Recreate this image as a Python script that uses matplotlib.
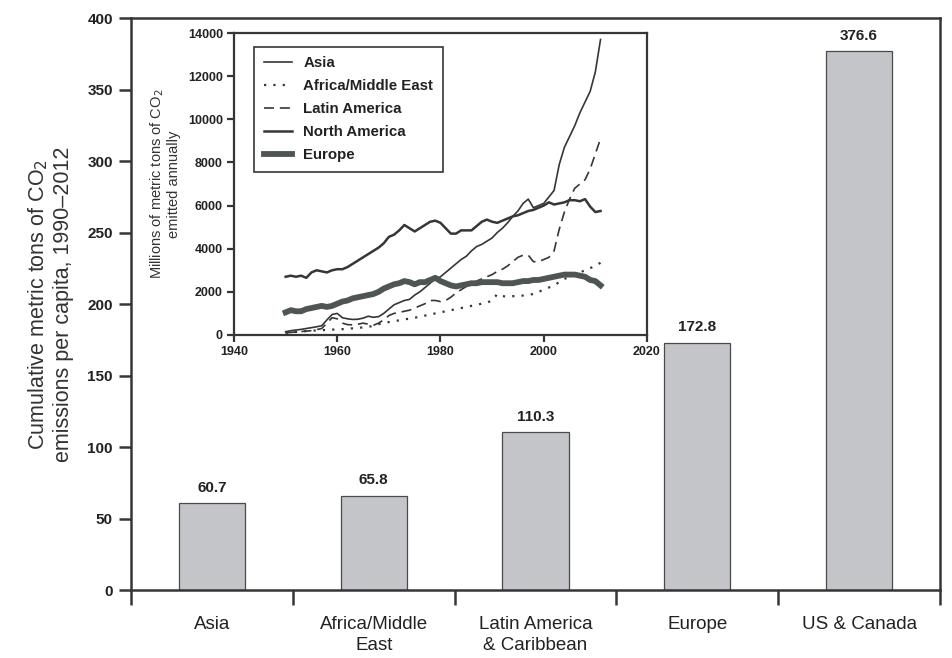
import numpy as np
import matplotlib
matplotlib.use('Agg')
import matplotlib.pyplot as plt

plt.rcParams['font.family'] = ['Liberation Sans', 'DejaVu Sans']

# main bar chart
regions = ['Asia', 'Africa/Middle\nEast', 'Latin America\n& Caribbean', 'Europe', 'US & Canada']
per_capita = [60.7, 65.8, 110.3, 172.8, 376.6]

# inset: annual emissions (millions of metric tons CO2), 1950-2011
years = list(range(1950, 2012))
asia = [150, 200, 230, 260, 300, 340, 380, 430, 700, 950,
        1000, 800, 750, 720, 730, 780, 870, 820, 850, 1000,
        1200, 1400, 1500, 1600, 1650, 1850, 2000, 2200, 2400, 2600,
        2700, 2900, 3100, 3300, 3500, 3650, 3900, 4100, 4200, 4350,
        4500, 4750, 4950, 5200, 5500, 5750, 6100, 6300, 5900, 6000,
        6100, 6400, 6700, 7900, 8700, 9200, 9700, 10300, 10800, 11300,
        12200, 13700]
africa_me = [100, 120, 140, 160, 180, 200, 210, 220, 240, 250,
             250, 270, 290, 310, 330, 350, 380, 420, 500, 550,
             600, 640, 680, 720, 760, 800, 850, 900, 950, 1000,
             1050, 1100, 1150, 1200, 1250, 1300, 1350, 1400, 1450, 1500,
             1600, 1900, 1800, 1780, 1800, 1800, 1830, 1860, 1900, 2000,
             2100, 2200, 2300, 2450, 2600, 2700, 2800, 2900, 3000, 3100,
             3200, 3350]
latin_am = [100, 120, 140, 160, 180, 200, 250, 300, 550, 800,
            750, 550, 480, 470, 500, 550, 500, 450, 550, 700,
            900, 1000, 1050, 1100, 1150, 1250, 1350, 1450, 1600, 1600,
            1550, 1600, 1750, 1950, 2100, 2250, 2350, 2500, 2600, 2700,
            2800, 2950, 3050, 3200, 3400, 3600, 3700, 3700, 3400, 3400,
            3500, 3600, 3900, 4900, 5700, 6300, 6800, 7000, 7200, 7700,
            8400, 9100]
north_am = [2700, 2750, 2700, 2750, 2650, 2900, 3000, 2950, 2900, 3000,
            3050, 3050, 3150, 3300, 3450, 3600, 3750, 3900, 4050, 4250,
            4550, 4650, 4850, 5100, 4950, 4800, 4950, 5100, 5250, 5300,
            5200, 4950, 4700, 4700, 4850, 4850, 4850, 5050, 5250, 5350,
            5250, 5200, 5300, 5400, 5500, 5550, 5650, 5750, 5800, 5900,
            6000, 6150, 6050, 6100, 6150, 6250, 6250, 6200, 6300, 5950,
            5700, 5750]
europe = [1050, 1150, 1100, 1100, 1200, 1250, 1300, 1350, 1300, 1350,
          1450, 1550, 1600, 1700, 1750, 1800, 1850, 1900, 2000, 2150,
          2250, 2350, 2400, 2500, 2450, 2350, 2450, 2450, 2550, 2650,
          2500, 2400, 2300, 2250, 2300, 2350, 2400, 2400, 2450, 2450,
          2450, 2450, 2400, 2400, 2400, 2450, 2500, 2500, 2550, 2550,
          2600, 2650, 2700, 2750, 2800, 2800, 2800, 2750, 2700, 2550,
          2500, 2300]

dark = '#363636'

fig = plt.figure(figsize=(9.52, 6.58), dpi=100)
ax = fig.add_axes([0.1376, 0.1033, 0.8498, 0.8693])

x = np.arange(len(regions))
ax.bar(x, per_capita, width=0.41, color='#c3c5c9', edgecolor='#4a4a4a', linewidth=0.9, zorder=2)
for xi, v in zip(x, per_capita):
    ax.text(xi, v + 6, f'{v:.1f}', ha='center', va='bottom', fontsize=11,
            fontweight='bold', color='#222222')

ax.set_xlim(-0.5, 4.5)
ax.set_ylim(0, 400)
ax.set_yticks(range(0, 401, 50))
ax.set_xticks(x)
ax.set_xticklabels(regions, fontsize=13.5, color='#222222', linespacing=1.3)
ax.set_xticks(np.arange(-0.5, 5, 1), minor=True)
ax.tick_params(axis='x', which='major', length=0, pad=19)
ax.tick_params(axis='x', which='minor', direction='out', length=11, width=1.8, color=dark)
ax.tick_params(axis='y', direction='out', length=9, width=1.8, color=dark, labelsize=11, pad=4)
for lab in ax.get_yticklabels():
    lab.set_fontweight('bold')
    lab.set_color('#222222')
for s in ax.spines.values():
    s.set_color(dark)
    s.set_linewidth(1.8)
ax.set_ylabel('Cumulative metric tons of CO$_2$\nemissions per capita, 1990\u20132012',
              fontsize=15.5, color='#333333', labelpad=10, linespacing=1.15)

# inset line chart
ins = fig.add_axes([0.2458, 0.4909, 0.4338, 0.4589])
ins.plot(years, asia, color=dark, lw=1.2, label='Asia')
ins.plot(years, africa_me, color=dark, lw=1.6, linestyle=(0, (1, 3.2)), label='Africa/Middle East')
ins.plot(years, latin_am, color=dark, lw=1.2, linestyle=(0, (6, 3.5)), label='Latin America')
ins.plot(years, north_am, color=dark, lw=1.8, label='North America')
ins.plot(years, europe, color='#4e5653', lw=4.2, label='Europe')
ins.set_xlim(1940, 2020)
ins.set_ylim(0, 14000)
ins.set_xticks(range(1940, 2021, 20))
ins.set_yticks(range(0, 14001, 2000))
ins.tick_params(direction='out', length=5, width=1.6, color=dark, labelsize=9, pad=3)
for lab in ins.get_xticklabels() + ins.get_yticklabels():
    lab.set_fontweight('bold')
    lab.set_color('#222222')
for s in ins.spines.values():
    s.set_color(dark)
    s.set_linewidth(1.6)
ins.set_ylabel('Millions of metric tons of CO$_2$\nemitted annually', fontsize=10.5,
               color='#333333', labelpad=5, linespacing=1.05)
leg = ins.legend(loc='upper left', bbox_to_anchor=(0.03, 0.98), fontsize=10.8,
                 handlelength=1.9, handletextpad=0.75, labelspacing=0.6,
                 borderpad=0.65, fancybox=False, framealpha=1, edgecolor=dark)
leg.get_frame().set_linewidth(1.2)
for t in leg.get_texts():
    t.set_fontweight('bold')
    t.set_color('#222222')

fig.savefig('out.png', dpi=100)
